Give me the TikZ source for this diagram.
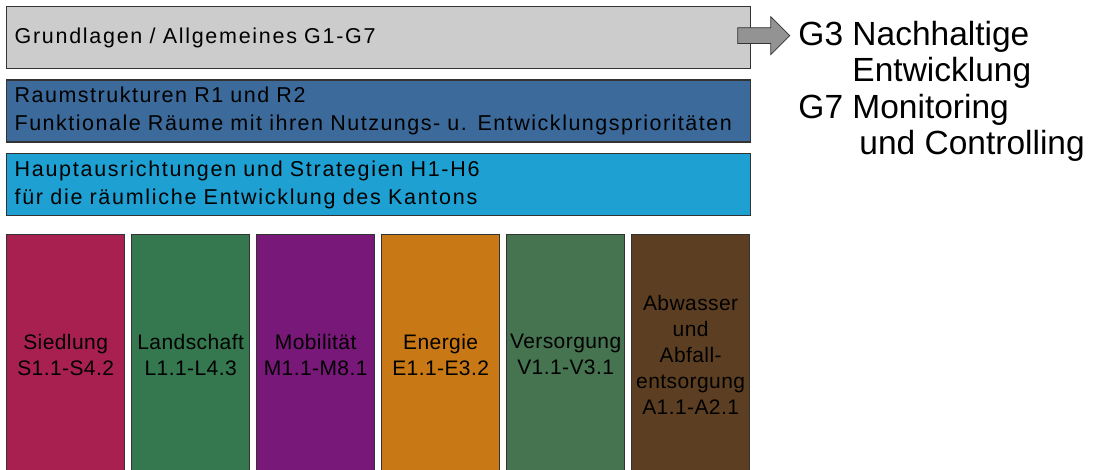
\documentclass[tikz,border=0pt]{standalone}
\usepackage{fontspec}
\setmainfont{Liberation Sans}
\newfontfamily\bandfont[LetterSpace=8]{Liberation Sans}
\newfontfamily\raumfont[LetterSpace=7]{Liberation Sans}
\newfontfamily\pillarfont[LetterSpace=2]{Liberation Sans}
\usetikzlibrary{calc,positioning,shapes.arrows}

\definecolor{grundgray}{RGB}{204,204,204}
\definecolor{raumblue}{RGB}{60,106,154}
\definecolor{hauptblue}{RGB}{30,160,210}
\definecolor{siedred}{RGB}{168,32,79}
\definecolor{landgreen}{RGB}{53,120,80}
\definecolor{mobpurple}{RGB}{120,24,120}
\definecolor{energorange}{RGB}{200,120,20}
\definecolor{versgreen}{RGB}{70,115,80}
\definecolor{abwbrown}{RGB}{92,63,34}

\begin{document}
\begin{tikzpicture}[x=1pt, y=-1pt]

\tikzset{
band/.style={draw=black!80, line width=1.3pt, anchor=north west, minimum width=744pt, minimum height=62pt, inner xsep=8pt, inner ysep=0pt, text width=728pt, align=left, font=\bandfont\fontsize{21.5}{28}\selectfont},
pillar/.style={draw=black!80, line width=1.3pt, anchor=north west, minimum width=118pt, minimum height=240pt, inner sep=0pt, align=center, font=\pillarfont\fontsize{21}{26}\selectfont},
bigarrow/.style={single arrow, draw=black!80, fill=gray!85, line width=0.8pt, inner xsep=0pt, inner ysep=7.5pt, single arrow head extend=11pt, single arrow head indent=0pt, minimum height=52pt},
sidelabel/.style={anchor=north west, inner sep=0pt, align=left, font=\fontsize{33.5}{36.5}\selectfont}
}

\useasboundingbox (0,0) rectangle (1103,470);

% Bands
\node[band, fill=grundgray] (grund) at (6,6) {Grundlagen / Allgemeines G1-G7};
\node[band, fill=raumblue, below=10pt of grund.south west, anchor=north west, font=\raumfont\fontsize{21.5}{28}\selectfont] (raum) {Raumstrukturen R1 und R2\\Funktionale Räume mit ihren Nutzungs- u. Entwicklungsprioritäten};
\node[band, fill=hauptblue, below=10.5pt of raum.south west, anchor=north west] (haupt) {Hauptausrichtungen und Strategien H1-H6\\für die räumliche Entwicklung des Kantons};

% Pillars
\node[pillar, fill=siedred, below=17.5pt of haupt.south west, anchor=north west] (sied) {Siedlung\\S1.1-S4.2};
\node[pillar, fill=landgreen, right=5.7pt of sied.north east, anchor=north west] (land) {Landschaft\\L1.1-L4.3};
\node[pillar, fill=mobpurple, right=5.7pt of land.north east, anchor=north west] (mob) {Mobilität\\M1.1-M8.1};
\node[pillar, fill=energorange, right=5.7pt of mob.north east, anchor=north west] (energ) {Energie\\E1.1-E3.2};
\node[pillar, fill=versgreen, right=5.7pt of energ.north east, anchor=north west] (vers) {Versorgung\\V1.1-V3.1};
\node[pillar, fill=abwbrown, right=5.7pt of vers.north east, anchor=north west] (abw) {Abwasser\\und\\Abfall-\\entsorgung\\A1.1-A2.1};

% Arrow
\node[bigarrow, anchor=west] (garrow) at ($(grund.east)+(-14,-2)$) {};

% Labels
\node[sidelabel] (ziele) at ($(garrow.east)+(8,-15)$) {G3 Nachhaltige\\\hspace*{54pt}Entwicklung\\G7 Monitoring\\\hspace*{61pt}und Controlling};

\end{tikzpicture}
\end{document}
